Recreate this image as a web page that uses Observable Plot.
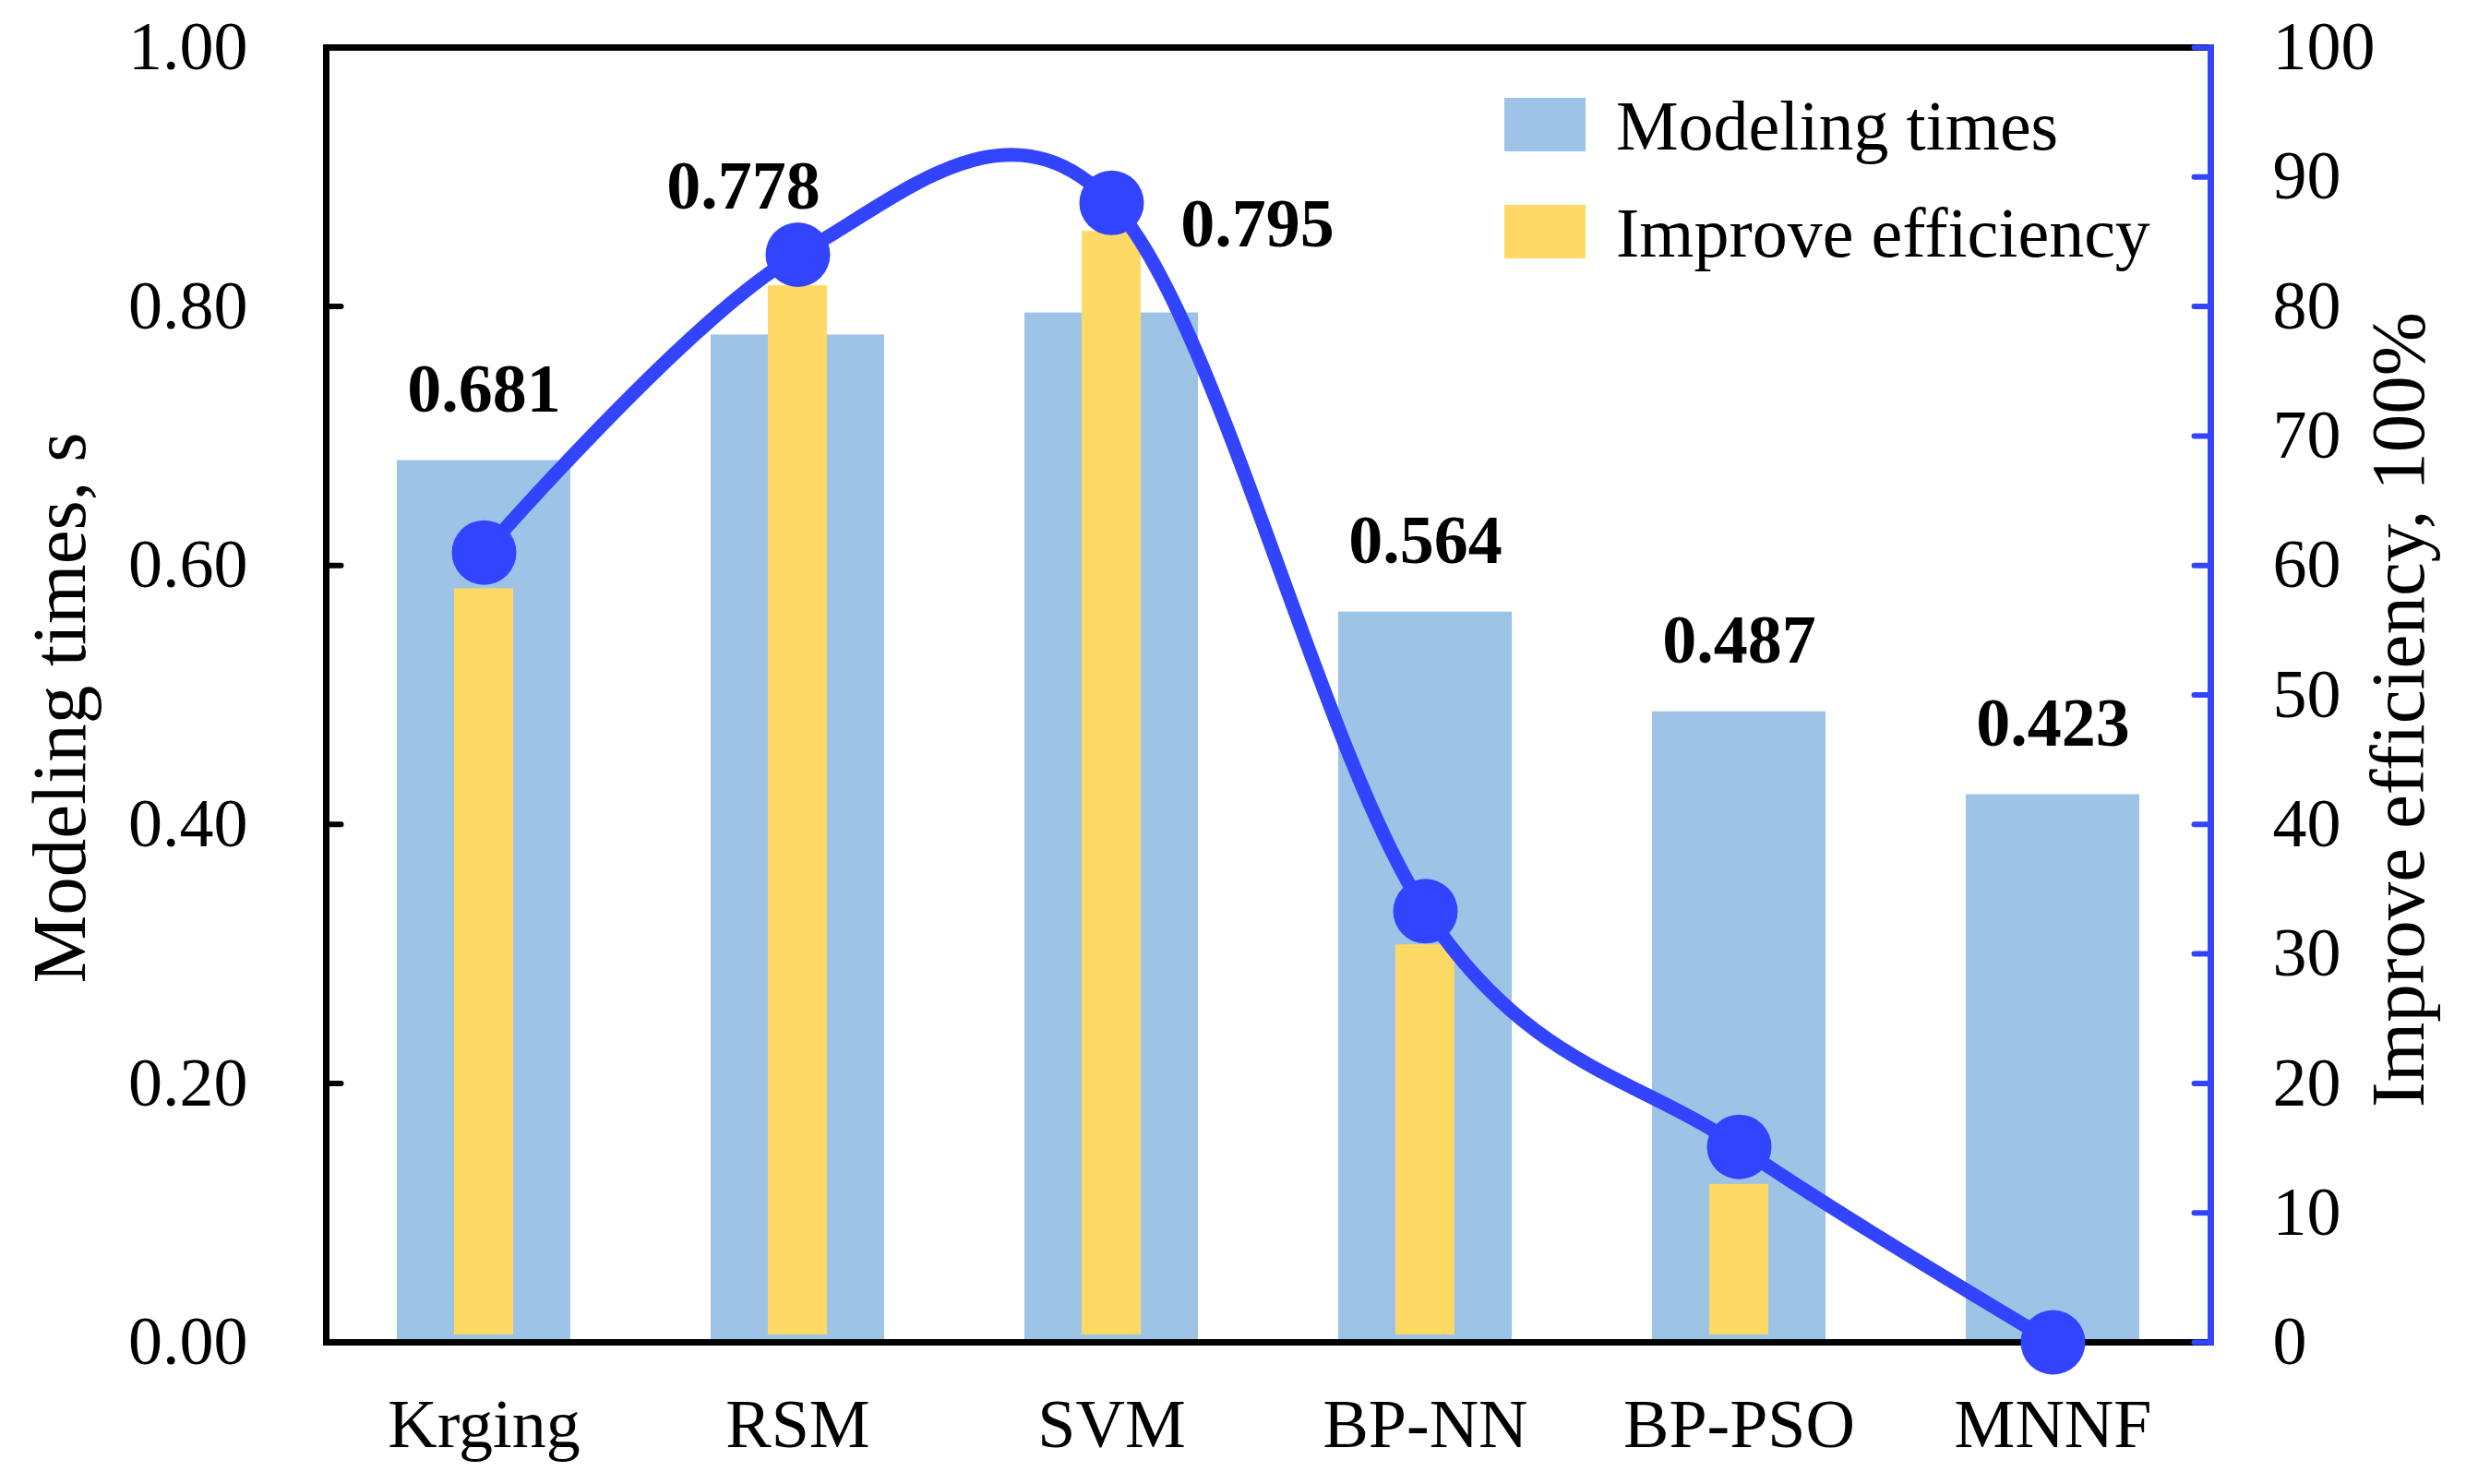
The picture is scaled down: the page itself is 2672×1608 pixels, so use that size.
<!DOCTYPE html>
<html><head><meta charset="utf-8">
<script src="https://cdn.jsdelivr.net/npm/d3@7"></script>
<script src="https://cdn.jsdelivr.net/npm/@observablehq/plot@0.6"></script>
<style>html,body{margin:0;padding:0;background:#fff}</style>
</head><body><div id="chart"></div>
<script>
const categories = ["Krging", "RSM", "SVM", "BP-NN", "BP-PSO", "MNNF"];
const modelingTimes = [0.681, 0.778, 0.795, 0.564, 0.487, 0.423];
const improveBars = [58.2, 81.6, 85.8, 30.7, 12.2, 0];
const improvePoints = [61.0, 84.0, 88.0, 33.3, 15.1, 0];
const timeLabels = ["0.681", "0.778", "0.795", "0.564", "0.487", "0.423"];
const leftTicks = [0, 0.2, 0.4, 0.6, 0.8, 1.0];
const rightTicks = [0, 10, 20, 30, 40, 50, 60, 70, 80, 90, 100];
const legendItems = ["Modeling times", "Improve efficiency"];

const BLUE_BAR = "#9DC3E6";
const YELLOW = "#FFD966";
const LINE_BLUE = "#3344FF";
const FONT = "Liberation Serif";

const idx = categories.map((_, i) => i);
// label offsets (layout only)
const labelDx = [0, -59, 158, 0, 0, 0];
const labelDy = [-77, -161, -96, -77, -77, -77];

const tickShape = {draw(context, l) { context.moveTo(0, 0); context.lineTo(0, -l); }};

const marks = [
  Plot.barY(idx, {x: i => categories[i], y: i => modelingTimes[i], fill: BLUE_BAR}),
  Plot.barY(idx, {x: i => categories[i], y: i => improveBars[i] / 100, fill: YELLOW, insetLeft: 62, insetRight: 62, insetBottom: 8}),
  Plot.ruleY([0, 1], {stroke: "black", strokeWidth: 7}),
  Plot.frame({anchor: "left", stroke: "black", strokeWidth: 7}),
  Plot.frame({anchor: "right", stroke: LINE_BLUE, strokeWidth: 7}),
  Plot.vector(leftTicks, {y: d => d, frameAnchor: "left", rotate: 90, length: 16, anchor: "start", shape: tickShape, stroke: "black", strokeWidth: 6}),
  Plot.vector(rightTicks, {y: d => d / 100, frameAnchor: "right", rotate: -90, length: 18, anchor: "start", shape: tickShape, stroke: LINE_BLUE, strokeWidth: 6}),
  Plot.axisY(leftTicks, {anchor: "left", tickSize: 0, tickPadding: 85, tickFormat: d3.format(".2f"), fontSize: 74, fill: "black", label: null}),
  Plot.axisY(rightTicks.map(d => d / 100), {anchor: "right", tickSize: 0, tickPadding: 67, tickFormat: d => String(Math.round(d * 100)), fontSize: 74, fill: "black", label: null}),
  Plot.axisX({tickSize: 0, tickPadding: 61, fontSize: 74, fill: "black", label: null}),
  Plot.line(idx, {x: i => categories[i], y: i => improvePoints[i] / 100, stroke: LINE_BLUE, strokeWidth: 15, curve: "cardinal", tension: 0}),
  Plot.dot(idx, {x: i => categories[i], y: i => improvePoints[i] / 100, r: 35, fill: LINE_BLUE}),
  ...idx.map(i => Plot.text([i], {x: j => categories[j], y: j => modelingTimes[j], text: j => timeLabels[j], dx: labelDx[i], dy: labelDy[i], fontSize: 74, fontWeight: "bold", fill: "black", lineAnchor: "middle"})),
  Plot.text(["Modeling times, s"], {frameAnchor: "left", textAnchor: "middle", rotate: -90, dx: -288, dy: 14, fontSize: 83, fill: "black", lineAnchor: "middle"}),
  Plot.text(["Improve efficiency, 100%"], {frameAnchor: "right", textAnchor: "middle", rotate: -90, dx: 204, dy: 16, fontSize: 83, fill: "black", lineAnchor: "middle"})
];

const chart = Plot.plot({
  width: 2672,
  height: 1608,
  marginLeft: 353,
  marginRight: 277,
  marginTop: 51,
  marginBottom: 154,
  style: {fontFamily: FONT, fontSize: "74px", background: "#fff", color: "black", overflow: "visible"},
  x: {domain: categories, paddingInner: 0.447, paddingOuter: 0.2235, axis: null},
  y: {domain: [0, 1], axis: null},
  marks
});
document.getElementById("chart").appendChild(chart);

// legend inside the plot area
const svg = d3.select(chart);
const leg = svg.append("g").attr("font-family", FONT).attr("font-size", 76).attr("text-anchor", "start");
const legColors = [BLUE_BAR, YELLOW];
legendItems.forEach((label, i) => {
  const top = 106 + i * 116;
  leg.append("rect").attr("x", 1630).attr("y", top).attr("width", 88).attr("height", 58).attr("fill", legColors[i]);
  leg.append("text").attr("x", 1751).attr("y", top + 56).attr("text-anchor", "start").attr("fill", "black").text(label);
});
</script>
</body></html>
